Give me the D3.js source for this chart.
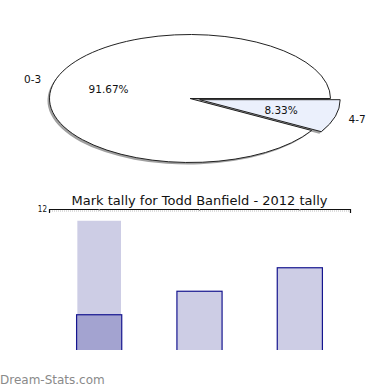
<!DOCTYPE html>
<html>
<head>
<meta charset="utf-8">
<script src="https://cdn.jsdelivr.net/npm/d3@7"></script>
<style>
  body { margin: 0; background: #fff; }
  svg { display: block; font-family: "DejaVu Sans", sans-serif; }
</style>
</head>
<body>
<div id="chart"></div>
<script>
// pie data
const pieLabels = ["0-3", "4-7"];
const pieValues = [11, 1];
const pieColors = ["#ffffff", "#ebf0fc"];

// bar data
const barCategories = ["a", "b", "c"];
const barValues = [3, 5, 7];
const barBackValues = [11, 0, 0];
const yTicks = [12];
const chartTitle = "Mark tally for Todd Banfield - 2012 tally";

const svg = d3.select("#chart").append("svg")
    .attr("width", 390)
    .attr("height", 390);

// ---- pie (drawn as a circle and squashed to an ellipse)
const cx = 190, cy = 98.5, rx = 140.5, ry = 64;
const sy = ry / rx;
const total = d3.sum(pieValues);

const pie = d3.pie().sort(null)
    .startAngle(Math.PI / 2 + Math.PI / 6)
    .endAngle(Math.PI / 2 + Math.PI / 6 + 2 * Math.PI);
const arcs = pie(pieValues);
const arc = d3.arc().innerRadius(0).outerRadius(rx);

const explode = [0, 10];
const pg = svg.append("g");

function offsetOf(d, i) {
    const a = (d.startAngle + d.endAngle) / 2;
    return [Math.sin(a) * explode[i], -Math.cos(a) * explode[i] * sy];
}

// shadows
arcs.forEach((d, i) => {
    const o = offsetOf(d, i);
    pg.append("path")
        .attr("transform", `translate(${cx + o[0] - 2},${cy + o[1] + 2}) scale(1,${sy})`)
        .attr("d", arc(d))
        .attr("fill", "#a0a0a0");
});

arcs.forEach((d, i) => {
    const o = offsetOf(d, i);
    pg.append("path")
        .attr("transform", `translate(${cx + o[0]},${cy + o[1]}) scale(1,${sy})`)
        .attr("d", arc(d))
        .attr("fill", pieColors[i])
        .attr("stroke", "#222")
        .attr("stroke-width", 1)
        .attr("vector-effect", "non-scaling-stroke");
});

// labels
arcs.forEach((d, i) => {
    const o = offsetOf(d, i);
    const a = (d.startAngle + d.endAngle) / 2;
    const dx = Math.sin(a), dy = -Math.cos(a);
    pg.append("text")
        .attr("x", cx + o[0] + dx * rx * 0.6)
        .attr("y", cy + o[1] + dy * ry * 0.6)
        .attr("text-anchor", "middle")
        .attr("dominant-baseline", "central")
        .attr("font-size", "10.5px")
        .attr("fill", "#111")
        .text((pieValues[i] / total * 100).toFixed(2) + "%");
    pg.append("text")
        .attr("x", cx + o[0] + dx * rx * 1.16)
        .attr("y", cy + o[1] + dy * ry * 1.16)
        .attr("text-anchor", "middle")
        .attr("dominant-baseline", "central")
        .attr("font-size", "10.5px")
        .attr("fill", "#111")
        .text(pieLabels[i]);
});

// ---- bar chart
const x = d3.scaleBand()
    .domain(barCategories)
    .range([49, 350])
    .paddingInner(0.55)
    .paddingOuter(0.275);
const y = d3.scaleLinear().domain([0, 12]).range([350, 209]);

const bg = svg.append("g");

svg.append("clipPath").attr("id", "plot")
  .append("rect")
    .attr("x", 0).attr("y", 0)
    .attr("width", 390).attr("height", y(0));

bg.append("text")
    .attr("x", 199.5)
    .attr("y", 200)
    .attr("text-anchor", "middle")
    .attr("dominant-baseline", "central")
    .attr("font-size", "13px")
    .attr("fill", "#111")
    .text(chartTitle);

const bars = bg.append("g").attr("clip-path", "url(#plot)");

// background bars
bars.selectAll(".back")
    .data(barBackValues)
    .join("rect")
    .attr("x", (d, i) => x(barCategories[i]) + 0.75)
    .attr("width", x.bandwidth() - 1.5)
    .attr("y", d => y(d))
    .attr("height", d => y(0) - y(d))
    .attr("fill", "#cdcde5");

bars.selectAll(".bar")
    .data(barValues)
    .join("rect")
    .attr("x", (d, i) => x(barCategories[i]))
    .attr("width", x.bandwidth())
    .attr("y", d => y(d))
    .attr("height", d => y(0) - y(d) + 2)
    .attr("fill", (d, i) => i === 0 ? "#a3a3d0" : "#cdcde5")
    .attr("stroke", "#15158f")
    .attr("stroke-width", 1.2);

// top axis
const ax = bg.append("g")
    .attr("transform", `translate(0,${y(12)})`)
    .call(d3.axisBottom(x).tickSizeInner(2).tickSizeOuter(4).tickFormat(""));
ax.select(".domain").attr("stroke", "#111").attr("stroke-width", 1.2);
ax.selectAll(".tick line").attr("stroke", "#aaa");

bg.append("line")
    .attr("x1", 50).attr("x2", 349)
    .attr("y1", y(12) + 2).attr("y2", y(12) + 2)
    .attr("stroke", "#bbb")
    .attr("stroke-dasharray", "1,1");

const ya = bg.append("g")
    .attr("transform", "translate(47,0)")
    .call(d3.axisLeft(y).tickValues(yTicks).tickSize(0).tickPadding(0));
ya.select(".domain").remove();
ya.selectAll("text").attr("font-size", "8px").attr("font-family", "DejaVu Sans Condensed, sans-serif").attr("fill", "#111");

// watermark
svg.append("text")
    .attr("x", 0)
    .attr("y", 380)
    .attr("dominant-baseline", "central")
    .attr("font-size", "12px")
    .attr("fill", "#8a8a8a")
    .text("Dream-Stats.com");
</script>
</body>
</html>
